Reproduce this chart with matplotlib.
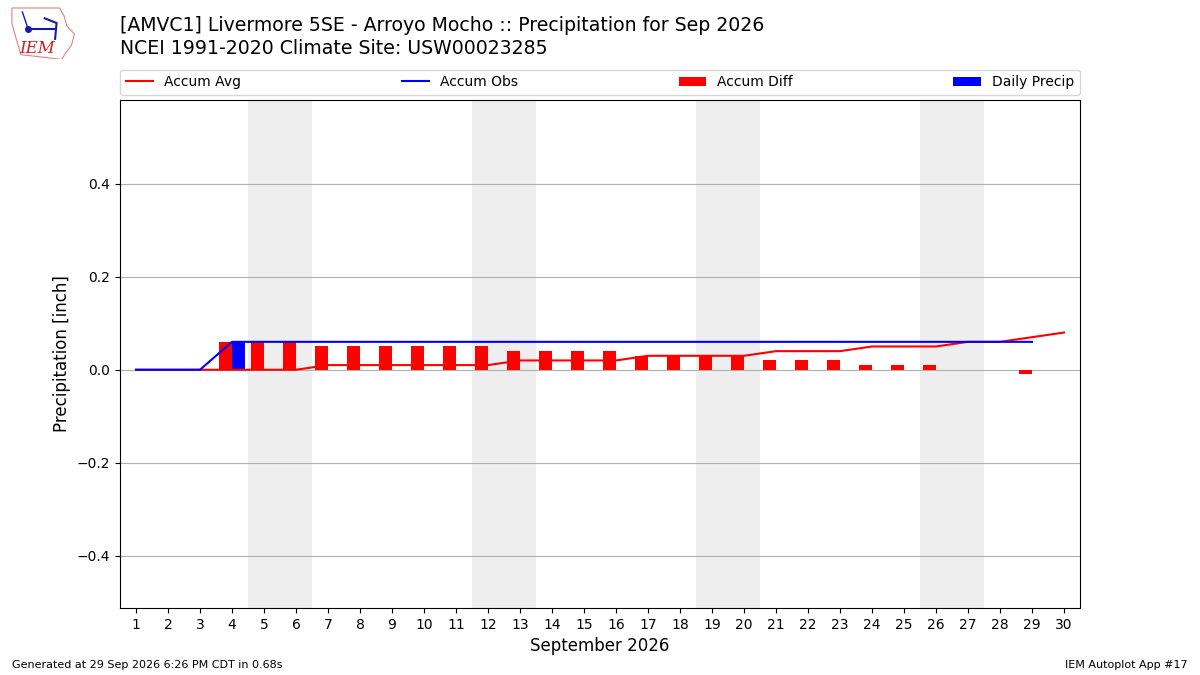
import numpy as np
import matplotlib
matplotlib.use("Agg")
import matplotlib.pyplot as plt
from matplotlib.patches import Polygon

# days of Sep 2026
days = np.arange(1, 31)

# accumulated climatology [inch]
accum_avg = [0, 0, 0, 0, 0, 0, 0.01, 0.01, 0.01, 0.01,
             0.01, 0.01, 0.02, 0.02, 0.02, 0.02, 0.03, 0.03, 0.03, 0.03,
             0.04, 0.04, 0.04, 0.05, 0.05, 0.05, 0.06, 0.06, 0.07, 0.08]
# accumulated observed (no ob on day 30)
obs_days = np.arange(1, 30)
accum_obs = [0, 0, 0, 0.06, 0.06, 0.06, 0.06, 0.06, 0.06, 0.06,
             0.06, 0.06, 0.06, 0.06, 0.06, 0.06, 0.06, 0.06, 0.06, 0.06,
             0.06, 0.06, 0.06, 0.06, 0.06, 0.06, 0.06, 0.06, 0.06]
daily_precip = [0, 0, 0, 0.06, 0, 0, 0, 0, 0, 0,
                0, 0, 0, 0, 0, 0, 0, 0, 0, 0,
                0, 0, 0, 0, 0, 0, 0, 0, 0]
accum_diff = [o - a for o, a in zip(accum_obs, accum_avg[:29])]

weekends = [(5, 6), (12, 13), (19, 20), (26, 27)]

fig = plt.figure(figsize=(12, 6.75), dpi=100)
ax = fig.add_axes([0.1, 0.0993, 0.8, 0.7527])

for s, e in weekends:
    ax.axvspan(s - 0.5, e + 0.5, color="#eeeeee", zorder=0, lw=0)

ax.plot(days, accum_avg, color="r", label="Accum Avg", zorder=3)
ax.plot(obs_days, accum_obs, color="b", label="Accum Obs", zorder=3)
ax.bar(obs_days - 0.4, accum_diff, width=0.4, align="edge", color="r",
       label="Accum Diff", zorder=2)
ax.bar(obs_days, daily_precip, width=0.4, align="edge", color="b",
       label="Daily Precip", zorder=2)

ax.set_xlim(0.5, 30.5)
ax.set_ylim(-0.512, 0.58)
ax.set_xticks(days)
ax.set_yticks([-0.4, -0.2, 0.0, 0.2, 0.4])
ax.yaxis.grid(True, color="#b0b0b0", zorder=1)
ax.set_axisbelow(True)
ax.set_xlabel("September 2026", fontsize=12)
ax.set_ylabel("Precipitation [inch]", fontsize=12)

ax.legend(loc="lower left", bbox_to_anchor=(0, 1.01, 1, 0.102), ncol=4,
          mode="expand", borderaxespad=0, fontsize=10)

fig.text(0.1, 0.945, "[AMVC1] Livermore 5SE - Arroyo Mocho :: Precipitation for Sep 2026\n"
         "NCEI 1991-2020 Climate Site: USW00023285", fontsize=13.6, va="center",
         ha="left", linespacing=1.25)

fig.text(0.01, 0.01, "Generated at 29 Sep 2026 6:26 PM CDT in 0.68s", fontsize=8)
fig.text(0.99, 0.01, "IEM Autoplot App #17", fontsize=8, ha="right")

# rough IEM logo
lax = fig.add_axes([0.005, 0.912, 0.062, 0.082])
lax.set_xlim(0, 100)
lax.set_ylim(0, 70)
lax.axis("off")
iowa = [(8, 65), (72, 65), (78, 55), (82, 42), (92, 32), (88, 18), (80, 8),
        (75, 0), (20, 6), (14, 25), (8, 45)]
lax.add_patch(Polygon(iowa, closed=True, fill=False, ec="#e88080", lw=0.8))
lax.text(42, 14, "IEM", color="#cc2222", fontsize=12, style="italic",
         family="serif", ha="center", va="center")
lax.plot([30, 66], [38, 38], color="#1a1aaa", lw=1.5)
lax.plot([30], [38], "o", color="#1a1aaa", ms=4)
lax.plot([22, 30], [60, 38], color="#1a1aaa", lw=1)
lax.plot([52, 68, 66], [52, 46, 26], color="#1a1aaa", lw=1.5)

fig.savefig("out.png", dpi=100)
